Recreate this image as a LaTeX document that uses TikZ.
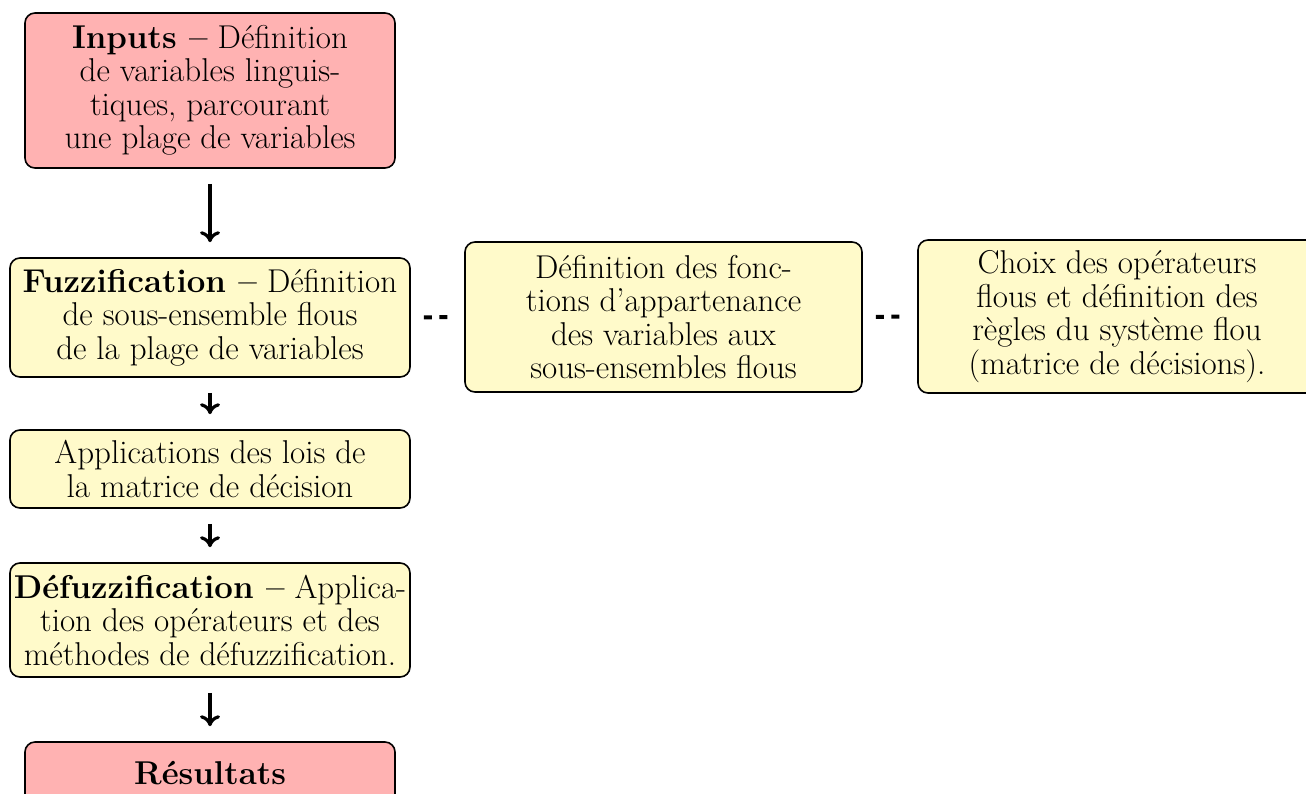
\documentclass[tikz,border=0pt]{standalone}
\usetikzlibrary{arrows.meta}
\definecolor{pinkbox}{RGB}{255,178,178}
\definecolor{yellowbox}{RGB}{255,250,202}
\begin{document}
\begin{tikzpicture}[x=1pt,y=-1pt,
  box/.style={draw=black,line width=1.6pt,rounded corners=10pt,align=center,
    inner sep=0pt,font=\fontsize{33}{33.5}\selectfont},
  pinkb/.style={box,fill=pinkbox},
  yelb/.style={box,fill=yellowbox},
  flow/.style={line width=3.4pt,-{To[length=11pt,width=20pt,line width=3.2pt]},shorten <=15pt,shorten >=15pt},
  link/.style={line width=4pt,dash pattern=on 8pt off 7.5pt,shorten <=13pt,shorten >=14pt}]
\useasboundingbox (0,0) rectangle (1306,793);
\clip (0,0) rectangle (1306,793);
\node[pinkb,minimum width=370pt,minimum height=155pt] (inp) at (210,90.5)
  {\textbf{Inputs --} Définition\\de variables linguis-\\tiques, parcourant\\une plage de variables};
\node[yelb,minimum width=400pt,minimum height=119pt] (fuz) at (210,317.5)
  {\textbf{Fuzzification --} Définition\\de sous-ensemble flous\\de la plage de variables};
\node[yelb,minimum width=397pt,minimum height=150pt] (mid) at (663.5,317)
  {Définition des fonc-\\tions d'appartenance\\des variables aux\\sous-ensembles flous};
\node[yelb,minimum width=398pt,minimum height=153pt] (rgt) at (1117,316.5)
  {Choix des opérateurs\\flous et définition des\\règles du système flou\\(matrice de décisions).};
\node[yelb,minimum width=400pt,minimum height=78pt] (app) at (210,469)
  {Applications des lois de\\la matrice de décision};
\node[yelb,minimum width=400pt,minimum height=114pt] (def) at (210,620)
  {\textbf{Défuzzification --} Applica-\\tion des opérateurs et des\\méthodes de défuzzification.};
\node[pinkb,minimum width=370pt,minimum height=62pt] (res) at (210,773)
  {\textbf{Résultats}};
\draw[flow] (inp.south) -- (fuz.north);
\draw[flow] (fuz.south) -- (app.north);
\draw[flow] (app.south) -- (def.north);
\draw[flow] (def.south) -- (res.north);
\draw[link] (fuz.east) -- (mid.west);
\draw[link] (mid.east) -- (rgt.west);
\end{tikzpicture}
\end{document}
